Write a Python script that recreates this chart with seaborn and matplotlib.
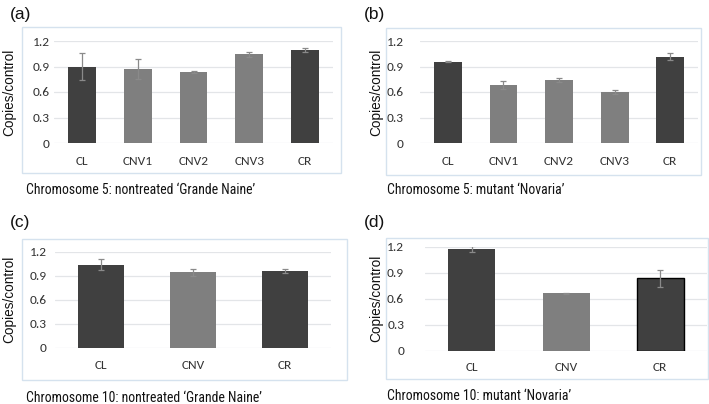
import numpy as np
import matplotlib
matplotlib.use("Agg")
import matplotlib.pyplot as plt
import seaborn as sns
from matplotlib.patches import Rectangle
from matplotlib import font_manager

# ---------------- data ----------------
cats_a = ["CL", "CNV1", "CNV2", "CNV3", "CR"]
vals_a = [0.90, 0.87, 0.835, 1.045, 1.095]
errs_a = [0.155, 0.12, 0.015, 0.03, 0.025]

cats_b = ["CL", "CNV1", "CNV2", "CNV3", "CR"]
vals_b = [0.957, 0.685, 0.738, 0.597, 1.017]
errs_b = [0.005, 0.05, 0.025, 0.022, 0.037]

cats_c = ["CL", "CNV", "CR"]
vals_c = [1.035, 0.942, 0.958]
errs_c = [0.07, 0.045, 0.025]

cats_d = ["CL", "CNV", "CR"]
vals_d = [1.17, 0.662, 0.835]
errs_d = [0.035, 0.004, 0.10]

yticks = [0, 0.3, 0.6, 0.9, 1.2]
ytick_labels = ["0", "0.3", "0.6", "0.9", "1.2"]

panel_letters = ["(a)", "(b)", "(c)", "(d)"]
captions = [
    "Chromosome 5: nontreated \u2018Grande Naine\u2019",
    "Chromosome 5: mutant \u2018Novaria\u2019",
    "Chromosome 10: nontreated \u2018Grande Naine\u2019",
    "Chromosome 10: mutant \u2018Novaria\u2019",
]
ylabel = "Copies/control"

# ---------------- style ----------------
sns.set_theme(style="white")
plt.rcParams["font.family"] = ["Liberation Sans", "DejaVu Sans"]

names = {f.name for f in font_manager.fontManager.ttflist}
if "Roboto Condensed" in names:
    CAP_FONT = ["Roboto Condensed", "Liberation Sans", "DejaVu Sans"]
    CAP_SIZE = 9.9
else:
    CAP_FONT = ["Liberation Sans", "DejaVu Sans"]
    CAP_SIZE = 8.1
if "Carlito" in names:
    TICK_FONT = ["Carlito", "DejaVu Sans"]
    TICK_SIZE = 9.6
else:
    TICK_FONT = ["Lato", "DejaVu Sans"]
    TICK_SIZE = 8.5

DARK = "#404040"
LIGHT = "#7f7f7f"
GRID = "#e3e5e8"
BOX = "#d5e2ee"

W, H = 709, 404
fig = plt.figure(figsize=(W / 100, H / 100), dpi=100)


def fx(px):
    return px / W


def fy(py):
    return 1 - py / H


def add_axes_px(left, top, right, bottom):
    return fig.add_axes([fx(left), fy(bottom), fx(right - left), (bottom - top) / H])


def add_box(left, top, right, bottom):
    fig.patches.append(Rectangle((fx(left), fy(bottom)), fx(right - left), (bottom - top) / H,
                                 transform=fig.transFigure, fill=False, edgecolor=BOX,
                                 linewidth=1.0, zorder=0))


panels = [
    dict(cats=cats_a, vals=vals_a, errs=errs_a,
         dark=["CL", "CR"], ax=(54, 41, 333, 143), box=(22, 27, 341, 173),
         ypad=3, xpad=9.5, ylab_x=9, letter=(10, 15), cap=(26, 190), edge=[]),
    dict(cats=cats_b, vals=vals_b, errs=errs_b,
         dark=["CL", "CR"], ax=(420, 41, 698, 143), box=(386, 28, 701, 175),
         ypad=12, xpad=9.5, ylab_x=376, letter=(364, 15), cap=(387, 190), edge=[]),
    dict(cats=cats_c, vals=vals_c, errs=errs_c,
         dark=["CL", "CR"], ax=(55, 251.7, 331, 347.5), box=(22, 239, 347, 380),
         ypad=6, xpad=9, ylab_x=9, letter=(10, 222), cap=(26, 398), edge=[]),
    dict(cats=cats_d, vals=vals_d, errs=errs_d,
         dark=["CL", "CR"], ax=(425, 246.7, 707, 350.7), box=(386, 238, 708, 379),
         ypad=15, xpad=8, ylab_x=376, letter=(364, 222), cap=(387, 396), edge=["CR"]),
]

for i, p in enumerate(panels):
    add_box(*p["box"])
    ax = add_axes_px(*p["ax"])
    cats = p["cats"]
    palette = {c: (DARK if c in p["dark"] else LIGHT) for c in cats}
    sns.barplot(x=cats, y=p["vals"], hue=cats, palette=palette, legend=False,
                width=0.5, errorbar=None, saturation=1, ax=ax, zorder=2)
    for bar, c in zip(ax.patches, cats):
        if c in p["edge"]:
            bar.set_edgecolor("black")
            bar.set_linewidth(1.0)
        else:
            bar.set_edgecolor("none")
    ax.errorbar(np.arange(len(cats)), p["vals"], yerr=p["errs"], fmt="none",
                ecolor="#8a8a8a", elinewidth=0.9, capsize=2.5, capthick=0.9, zorder=3)
    ax.set_xlim(-0.5, len(cats) - 0.5)
    ax.set_ylim(0, 1.2)
    ax.set_yticks(yticks)
    ax.set_yticklabels(ytick_labels)
    ax.yaxis.grid(True, color=GRID, linewidth=0.9, zorder=0)
    ax.set_axisbelow(True)
    for s in ax.spines.values():
        s.set_visible(False)
    ax.tick_params(axis="both", length=0, colors="#333333")
    ax.tick_params(axis="y", pad=p["ypad"])
    ax.tick_params(axis="x", pad=p["xpad"])
    for lab in ax.get_xticklabels() + ax.get_yticklabels():
        lab.set_fontfamily(TICK_FONT)
        lab.set_fontsize(TICK_SIZE)
    ax.set_xlabel("")
    ax.set_ylabel("")
    # y label
    yc = (p["ax"][1] + p["ax"][3]) / 2
    fig.text(fx(p["ylab_x"]), fy(yc), ylabel, rotation=90, ha="center", va="center",
             fontsize=9.8, color="#111111")
    # panel letter
    fig.text(fx(p["letter"][0]), fy(p["letter"][1]), panel_letters[i], ha="left",
             va="center", fontsize=12.5, color="#111111")
    # caption
    fig.text(fx(p["cap"][0]), fy(p["cap"][1]), captions[i], ha="left", va="center",
             fontsize=CAP_SIZE, family=CAP_FONT, color="#111111")

fig.savefig("out.png", dpi=100)
